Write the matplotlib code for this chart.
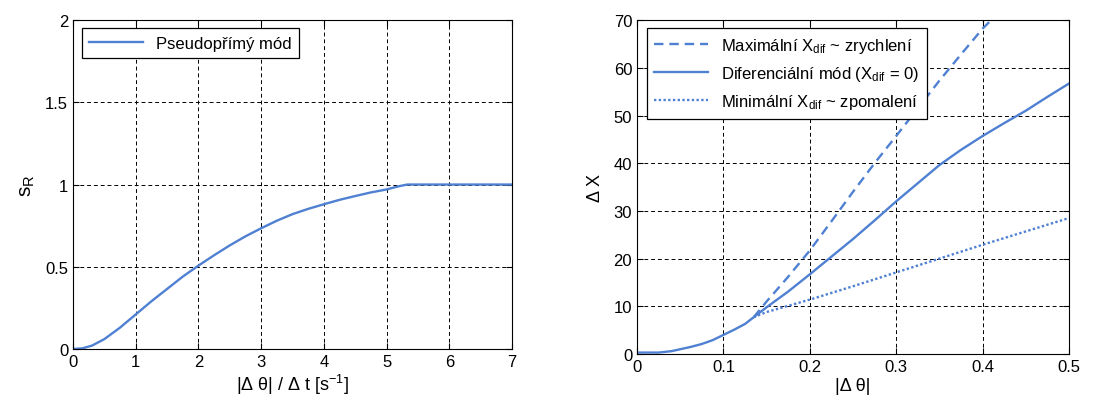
import numpy as np
import matplotlib.pyplot as plt

plt.rcParams["font.family"] = ["Liberation Sans", "DejaVu Sans"]
plt.rcParams["mathtext.fontset"] = "custom"
plt.rcParams["mathtext.rm"] = "Liberation Sans"
plt.rcParams["mathtext.it"] = "Liberation Sans"
plt.rcParams["font.size"] = 12

LINE_COLOR = "#4f80d2"

# ── Pseudo-direct mode: s_R vs |dθ|/dt ─────────────────────────────────────────
rate = [0, 0.15, 0.3, 0.5, 0.75, 1.0, 1.25, 1.5, 1.75, 2.0, 2.25, 2.5, 2.75, 3.0,
        3.25, 3.5, 3.75, 4.0, 4.25, 4.5, 4.75, 5.0, 5.2, 5.33, 7.0]
s_r = [0, 0.004, 0.02, 0.06, 0.13, 0.21, 0.29, 0.365, 0.44, 0.507, 0.57, 0.63,
       0.685, 0.734, 0.78, 0.82, 0.852, 0.88, 0.907, 0.93, 0.952, 0.97, 0.99,
       1.0, 1.0]

# ── ΔX vs |Δθ| for the three modes ────────────────────────────────────────────
theta_common = [0, 0.025, 0.04, 0.05, 0.0625, 0.075, 0.0875, 0.1, 0.1125, 0.125,
                0.135]
dx_common = [0.3, 0.3, 0.6, 1.0, 1.5, 2.1, 2.9, 4.0, 5.1, 6.3, 7.7]

theta_diff = [0.15, 0.175, 0.2, 0.225, 0.25, 0.275, 0.3, 0.325, 0.35, 0.375,
              0.4, 0.425, 0.45, 0.475, 0.5]
dx_diff = [9.8, 13.1, 16.7, 20.4, 24.1, 28.0, 32.0, 35.8, 39.6, 42.8,
           45.7, 48.4, 51.0, 53.9, 56.7]

theta_max = [0.15, 0.175, 0.2, 0.225, 0.25, 0.275, 0.3, 0.325, 0.35, 0.375,
             0.4, 0.41]
dx_max = [11.0, 16.2, 21.7, 27.8, 34.0, 40.0, 45.7, 51.5, 57.3, 62.8, 68.2, 70.0]

theta_min = [0.15, 0.175, 0.2, 0.25, 0.3, 0.35, 0.4, 0.45, 0.5]
dx_min = [8.8, 10.1, 11.4, 14.2, 17.1, 20.0, 22.9, 25.7, 28.5]


def _style_axes(ax):
    ax.grid(True, color="black", linestyle=(0, (4, 3)), linewidth=0.7)
    ax.tick_params(direction="in", top=True, right=True, length=4, labelsize=12)
    for sp in ax.spines.values():
        sp.set_linewidth(0.8)


fig = plt.figure(figsize=(10.93, 4.06), dpi=100)
ax1 = fig.add_axes([0.0668, 0.138, 0.4016, 0.810])
ax2 = fig.add_axes([0.5828, 0.1256, 0.3952, 0.8224])

ax1.plot(rate, s_r, color=LINE_COLOR, lw=1.7, label="Pseudopřímý mód")
ax1.set_xlim(0, 7)
ax1.set_ylim(0, 2)
ax1.set_xticks(range(0, 8))
ax1.set_yticks([0, 0.5, 1, 1.5, 2])
ax1.set_yticklabels(["0", "0.5", "1", "1.5", "2"])
ax1.set_xlabel(r"|Δ θ| / Δ t [s$^{\mathrm{-1}}$]", fontsize=13, labelpad=2)
ax1.set_ylabel(r"s$_{\mathrm{R}}$", fontsize=15, labelpad=6)
_style_axes(ax1)
leg1 = ax1.legend(loc="upper left", bbox_to_anchor=(0.02, 0.975), fancybox=False,
                  framealpha=1, edgecolor="black", handlelength=3.2,
                  borderpad=0.45, borderaxespad=0)
leg1.get_frame().set_linewidth(0.9)

x_diff = theta_common + theta_diff
y_diff = dx_common + dx_diff
x_max = theta_common[-1:] + theta_max
y_max = dx_common[-1:] + dx_max
x_min = theta_common[-1:] + theta_min
y_min = dx_common[-1:] + dx_min

ax2.plot(x_max, y_max, color=LINE_COLOR, lw=1.7, linestyle=(0, (4, 2.5)),
         label=r"Maximální X$_{\mathrm{dif}}$ ~ zrychlení")
ax2.plot(x_diff, y_diff, color=LINE_COLOR, lw=1.7,
         label=r"Diferenciální mód (X$_{\mathrm{dif}}$ = 0)")
ax2.plot(x_min, y_min, color=LINE_COLOR, lw=1.7, linestyle=(0, (1, 1)),
         label=r"Minimální X$_{\mathrm{dif}}$ ~ zpomalení")
ax2.set_xlim(0, 0.5)
ax2.set_ylim(0, 70)
ax2.set_xticks([0, 0.1, 0.2, 0.3, 0.4, 0.5])
ax2.set_xticklabels(["0", "0.1", "0.2", "0.3", "0.4", "0.5"])
ax2.set_yticks(range(0, 71, 10))
ax2.set_xlabel("|Δ θ|", fontsize=13, labelpad=2)
ax2.set_ylabel("Δ X", fontsize=13, labelpad=7)
_style_axes(ax2)
leg2 = ax2.legend(loc="upper left", bbox_to_anchor=(0.023, 0.975), fancybox=False,
                  framealpha=1, edgecolor="black", handlelength=3.2,
                  borderpad=0.45, borderaxespad=0, labelspacing=0.55)
leg2.get_frame().set_linewidth(0.9)

fig.savefig("out.png", dpi=100)
